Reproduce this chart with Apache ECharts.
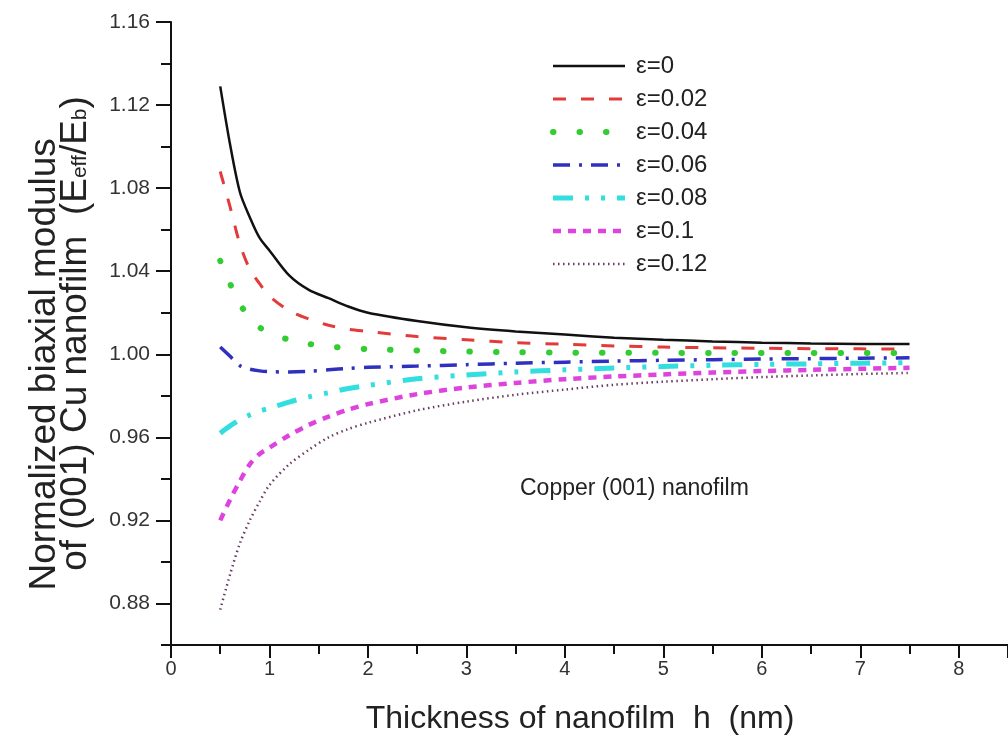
<!DOCTYPE html>
<html>
<head>
<meta charset="utf-8">
<title>Cu nanofilm biaxial modulus</title>
<script src="https://cdn.jsdelivr.net/npm/echarts@6/dist/echarts.min.js"></script>
<style>
html,body{margin:0;padding:0;background:#fff;}
#main{width:1008px;height:735px;}
</style>
</head>
<body>
<div id="main"></div>
<script>
// film thickness h (nm)
var hValues = [0.5, 0.6, 0.7, 0.8, 0.9, 1.0, 1.2, 1.4, 1.6, 1.8, 2.0, 2.5, 3.0, 3.5, 4.0, 4.5, 5.0, 5.5, 6.0, 6.5, 7.0, 7.5];

// normalized modulus Eeff/Eb for each strain
var eps0    = [1.129, 1.101, 1.078, 1.066, 1.056, 1.050, 1.038, 1.031, 1.027, 1.023, 1.020, 1.016, 1.013, 1.011, 1.0095, 1.008, 1.007, 1.0062, 1.0056, 1.0052, 1.005, 1.005];
var eps002  = [1.088, 1.071, 1.053, 1.041, 1.034, 1.028, 1.021, 1.017, 1.014, 1.012, 1.011, 1.0085, 1.007, 1.0056, 1.0048, 1.004, 1.0035, 1.0031, 1.0029, 1.0027, 1.0026, 1.0025];
var eps004  = [1.045, 1.034, 1.024, 1.018, 1.013, 1.010, 1.007, 1.005, 1.0037, 1.003, 1.0025, 1.0018, 1.0013, 1.001, 1.0008, 1.0007, 1.0007, 1.0006, 1.0006, 1.0006, 1.0006, 1.0006];
var eps006  = [1.0035, 0.999, 0.9945, 0.9928, 0.992, 0.9916, 0.9915, 0.9918, 0.9925, 0.9932, 0.9937, 0.9943, 0.995, 0.9957, 0.9962, 0.9967, 0.9971, 0.9974, 0.9977, 0.9979, 0.9981, 0.9983];
var eps008  = [0.962, 0.9655, 0.9685, 0.9708, 0.9727, 0.974, 0.977, 0.9795, 0.9815, 0.9835, 0.985, 0.9882, 0.990, 0.9915, 0.9925, 0.9934, 0.9941, 0.9947, 0.9951, 0.9954, 0.9957, 0.9959];
var eps010  = [0.920, 0.930, 0.939, 0.947, 0.952, 0.955, 0.961, 0.966, 0.970, 0.9733, 0.976, 0.9808, 0.984, 0.9862, 0.988, 0.9893, 0.9903, 0.9912, 0.9919, 0.9925, 0.993, 0.9935];
var eps012  = [0.877, 0.894, 0.909, 0.920, 0.929, 0.937, 0.947, 0.954, 0.960, 0.964, 0.967, 0.973, 0.9772, 0.9805, 0.983, 0.9853, 0.9868, 0.988, 0.989, 0.9898, 0.9905, 0.991];

var seriesNames = ['ε=0', 'ε=0.02', 'ε=0.04', 'ε=0.06', 'ε=0.08', 'ε=0.1', 'ε=0.12'];
var seriesValues = [eps0, eps002, eps004, eps006, eps008, eps010, eps012];

// tick positions on the value axis
var yMajorTicks = [0.88, 0.92, 0.96, 1.00, 1.04, 1.08, 1.12, 1.16];
var yMinorTicks = [0.86, 0.90, 0.94, 0.98, 1.02, 1.06, 1.10, 1.14];

// line look of each curve (colour, width, dash pattern)
var lineLooks = [
    {color: '#111111', width: 2.5, type: 'solid'},
    {color: '#e33a3a', width: 3, type: [13, 15]},
    {color: '#33cc33', width: 6, type: [0.5, 26], cap: 'round'},
    {color: '#3030c0', width: 3.5, type: [17, 9, 3, 9]},
    {color: '#33dede', width: 5, type: [20, 12, 4, 12, 4, 12]},
    {color: '#dd44dd', width: 4.5, type: [8, 7]},
    {color: '#6a3a60', width: 2.5, type: [1.5, 3.5]}
];

var font = 'Liberation Sans, Arial, sans-serif';
var myChart = echarts.init(document.getElementById('main'));

function pairs(ys){
    var out = [];
    for (var i = 0; i < hValues.length; i++) {
        out.push([hValues[i], ys[i]]);
    }
    return out;
}

var series = [];
for (var i = 0; i < seriesNames.length; i++) {
    series.push({
        name: seriesNames[i],
        type: 'line',
        smooth: 0.3,
        symbol: 'none',
        data: pairs(seriesValues[i]),
        lineStyle: lineLooks[i],
        itemStyle: {color: lineLooks[i].color}
    });
}

var option = {
    backgroundColor: '#fff',
    animation: false,
    grid: {left: 171, top: 22, width: 837, bottom: 90, outerBoundsMode: 'none', containLabel: false},
    legend: {
        orient: 'vertical',
        left: 545,
        top: 49,
        itemWidth: 72,
        itemHeight: 14,
        itemGap: 9,
        itemStyle: {opacity: 0},
        lineStyle: {width: 'inherit'},
        textStyle: {fontFamily: font, fontSize: 24, lineHeight: 24, color: '#222', padding: [0, 0, 0, 6]},
        data: seriesNames
    },
    xAxis: {
        type: 'value',
        min: 0,
        max: 8.5,
        interval: 1,
        name: 'Thickness of nanofilm  h  (nm)',
        nameLocation: 'middle',
        nameGap: 58,
        nameTextStyle: {fontFamily: font, fontSize: 32, color: '#222', padding: [0, 19, 0, 0]},
        axisLine: {lineStyle: {color: '#111', width: 2}},
        axisTick: {length: 13, lineStyle: {color: '#111', width: 2}},
        minorTick: {show: true, splitNumber: 2, length: 9, lineStyle: {color: '#111', width: 2}},
        splitLine: {show: false},
        axisLabel: {
            fontFamily: font, fontSize: 20, color: '#333', margin: 14,
            formatter: function (v){
                return Math.abs(v - Math.round(v)) < 1e-6 ? String(Math.round(v)) : '';
            }
        }
    },
    yAxis: [{
        type: 'value',
        min: 0.86,
        max: 1.16,
        name: 'Normalized biaxial modulus      \nof (001) Cu nanofilm  (E{s|eff}/E{s|b})',
        nameLocation: 'middle',
        nameGap: 80,
        nameTextStyle: {
            fontFamily: font, fontSize: 37, color: '#222', lineHeight: 31, padding: [0, 0, 0, 0],
            rich: {s: {fontFamily: font, fontSize: 21, color: '#222', lineHeight: 10, verticalAlign: 'bottom'}}
        },
        axisLine: {show: true, lineStyle: {color: '#111', width: 2}},
        axisTick: {show: true, length: 15, customValues: yMajorTicks, lineStyle: {color: '#111', width: 2}},
        splitLine: {show: false},
        axisLabel: {
            fontFamily: font, fontSize: 21, color: '#333', margin: 21,
            customValues: yMajorTicks,
            formatter: function (v){ return v.toFixed(2); }
        }
    }, {
        type: 'value',
        min: 0.86,
        max: 1.16,
        position: 'left',
        axisLine: {show: false},
        axisTick: {show: true, length: 10, customValues: yMinorTicks, lineStyle: {color: '#111', width: 2}},
        axisLabel: {show: false},
        splitLine: {show: false}
    }],
    graphic: [{
        type: 'text',
        left: 520,
        top: 477,
        style: {text: 'Copper (001) nanofilm', font: '23px ' + font, fill: '#222'}
    }],
    series: series
};
myChart.setOption(option);
</script>
</body>
</html>
